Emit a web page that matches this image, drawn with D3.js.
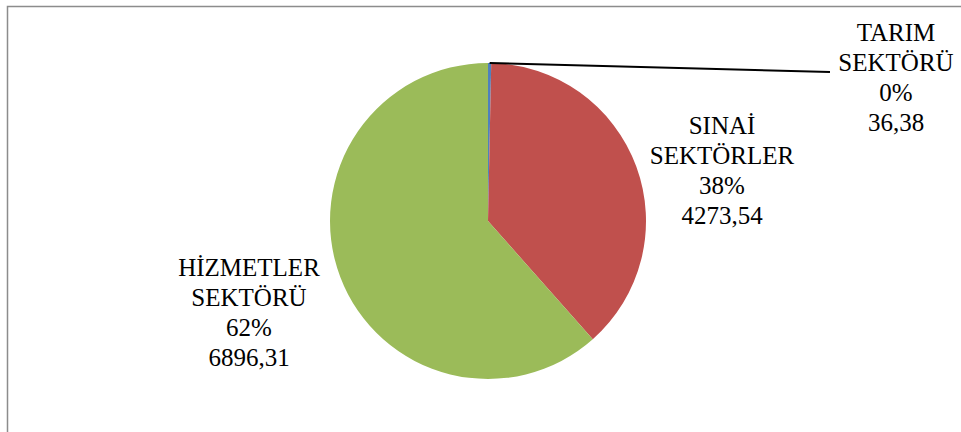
<!DOCTYPE html>
<html>
<head>
<meta charset="utf-8">
<script src="https://cdn.jsdelivr.net/npm/d3@7/dist/d3.min.js"></script>
</head>
<body style="margin:0">
<svg id="chart" width="961" height="432"></svg>
<script>
// Sector shares (values as published)
const sectors = ["TARIM SEKTÖRÜ", "SINAİ SEKTÖRLER", "HİZMETLER SEKTÖRÜ"];
const labelLines = [["TARIM", "SEKTÖRÜ"], ["SINAİ", "SEKTÖRLER"], ["HİZMETLER", "SEKTÖRÜ"]];
const values = [36.38, 4273.54, 6896.31];
const colors = ["#4F81BD", "#C0504D", "#9BBB59"];

const cx = 488, cy = 221, R = 158;

// label block anchors (centre x, first baseline y)
const labelPos = [[896, 41], [722, 134], [249, 276]];
const lineGap = 30;

const svg = d3.select("#chart");

// chart area frame
svg.append("rect")
  .attr("x", 7.5).attr("y", 6.5)
  .attr("width", 1000).attr("height", 1000)
  .attr("fill", "none")
  .attr("stroke", "#8c8c8c")
  .attr("stroke-width", 1.5);

const total = d3.sum(values);
const pie = d3.pie().sort(null).value(d => d)(values);
const arc = d3.arc().innerRadius(0).outerRadius(R);

const g = svg.append("g").attr("transform", `translate(${cx},${cy})`);
g.selectAll("path.slice")
  .data(pie)
  .join("path")
  .attr("class", "slice")
  .attr("d", arc)
  .attr("fill", (d, i) => colors[i]);

const fmtVal = v => d3.format(".2f")(v).replace(".", ",");
const fmtPct = v => Math.round(v / total * 100) + "%";

// leader line for the thin slice
const t = pie[0];
const mid = (t.startAngle + t.endAngle) / 2;
const p0 = [cx + R * Math.sin(mid), cy - R * Math.cos(mid)];
svg.append("line")
  .attr("x1", p0[0]).attr("y1", p0[1])
  .attr("x2", 830).attr("y2", 72)
  .attr("stroke", "#000")
  .attr("stroke-width", 2);

// label lines, centred by measuring each one
const rows = [];
pie.forEach((d, i) => {
  const lines = [...labelLines[i], fmtPct(d.value), fmtVal(d.value)];
  lines.forEach((s, k) => rows.push({ s, x: labelPos[i][0], y: labelPos[i][1] + k * lineGap }));
});

svg.selectAll("text.lbl")
  .data(rows)
  .join("text")
  .attr("class", "lbl")
  .attr("font-size", 25)
  .style("font-family", "'Liberation Serif'")
  .attr("y", r => r.y)
  .text(r => r.s)
  .attr("x", function (r) { return r.x - this.getComputedTextLength() / 2; });
</script>
</body>
</html>
